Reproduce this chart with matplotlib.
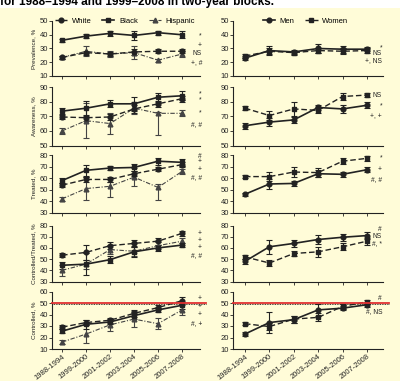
import matplotlib
matplotlib.use("Agg")
import matplotlib.pyplot as plt
from matplotlib.patches import Rectangle
from matplotlib.lines import Line2D

# ---------------- data ----------------
periods = ["1988-1994", "1999-2000", "2001-2002", "2003-2004", "2005-2006", "2007-2008"]
race_labels = ["White", "Black", "Hispanic"]
sex_labels = ["Men", "Women"]
row_labels = ["Prevalence, %", "Awareness, %", "Treated, %", "Controlled/Treated, %", "Controlled, %"]
row_ylims = [(10, 50), (50, 90), (30, 80), (30, 80), (10, 60)]

# Prevalence
prev_white = [23.5, 27, 26, 27.5, 28, 28]
prev_white_err = [1, 1.5, 1.5, 2, 1.5, 1.5]
prev_black = [36, 39, 41, 39.5, 41.5, 40]
prev_black_err = [1, 1.5, 2, 3, 1.5, 2.5]
prev_hisp = [23.5, 28, 26, 27, 21.5, 26]
prev_hisp_err = [1, 3.5, 2.5, 4.5, 1, 2.5]
prev_men = [23, 28.5, 27.5, 30, 29.5, 29.5]
prev_men_err = [1.5, 3.5, 1.5, 3.5, 2.5, 1.5]
prev_women = [24.5, 28, 27, 28.5, 28, 28.5]
prev_women_err = [1.5, 2, 1.5, 2, 2, 1.5]

# Awareness
awa_white = [69.5, 69, 69.5, 75, 78.5, 82]
awa_white_err = [1.5, 2, 2, 3, 2, 2]
awa_black = [73.5, 75.5, 78.5, 78.5, 83, 84]
awa_black_err = [2, 5, 2.5, 5, 3, 3]
awa_hisp = [60, 67, 65, 75.5, 72, 72]
awa_hisp_err = [[2, 12, 7, 4, 15, 2], [2, 12, 7, 4, 1, 2]]
awa_men = [63.5, 66, 67.5, 76, 75, 77.5]
awa_men_err = [2, 3, 2, 2, 3, 2]
awa_women = [75.5, 70.5, 75, 74, 83.5, 84.5]
awa_women_err = [1.5, 3, 5, 2, 2.5, 1.5]

# Treated
trt_white = [54, 59, 59, 64, 68, 72]
trt_white_err = [2, 2, 2, 2, 2, 2]
trt_black = [58, 67, 69, 69.5, 75, 74]
trt_black_err = [2, 5, 2, 3, 3, 3]
trt_hisp = [42, 51, 53, 61, 52, 66]
trt_hisp_err = [[2, 10, 9, 8, 11, 2], [2, 10, 4, 8, 3, 2]]
trt_men = [46, 55, 55.5, 64, 63.5, 67.5]
trt_men_err = [1.5, 4, 2, 3, 2, 2]
trt_women = [61.5, 61.5, 65.5, 65, 75, 77.5]
trt_women_err = [1.5, 4, 4, 4, 2.5, 2]

# Controlled among treated
ct_white = [53.5, 56, 62, 64, 66, 73]
ct_white_err = [2, 7, 3, 3, 3, 2]
ct_black = [44.5, 45.5, 49.5, 56.5, 60, 62.5]
ct_black_err = [3, 10, 3, 5, 3, 2]
ct_hisp = [40, 45.5, 58.5, 57, 62, 66]
ct_hisp_err = [5, 4, 4, 4, 3, 3]
ct_men = [48, 61, 64, 67.5, 69.5, 71]
ct_men_err = [2, 6, 3, 4, 3, 3]
ct_women = [52, 46.5, 55, 56.5, 61, 66]
ct_women_err = [2, 3, 2, 4.5, 3, 3]

# Controlled
ctl_white = [29, 33, 35, 41, 46, 52]
ctl_white_err = [1.5, 2, 2, 3, 2, 3]
ctl_black = [25.5, 31.5, 33.5, 39, 44, 48]
ctl_black_err = [2, 4, 2, 3, 2, 3]
ctl_hisp = [16, 23, 31, 36, 32, 44]
ctl_hisp_err = [2, 8, 5, 7, 5, 4]
ctl_men = [23, 33, 35.5, 44, 45.5, 48.5]
ctl_men_err = [1.5, 9, 3, 5, 2, 2]
ctl_women = [32, 29.5, 36, 37.5, 47, 51]
ctl_women_err = [1.5, 3, 3, 3.5, 2, 2]

control_target = 50

# significance notes (text, y)
race_notes = [
    [("*", 39.5), ("+", 32), ("NS", 26), ("+, #", 20)],
    [("*", 85), ("*", 81), ("*", 72.5), ("#, #", 64.5)],
    [("#", 79.5), ("+", 74.5), ("+", 67.5), ("#, #", 61)],
    [("+", 72.5), ("+", 67), ("+", 60), ("#, #", 53)],
    [("+", 54), ("+", 47), ("+", 40), ("#, +", 32.5)],
]
sex_notes = [
    [("*", 30.5), ("NS", 26), ("+, NS", 21)],
    [("NS", 84.5), ("*", 77), ("+, +", 70)],
    [("*", 77.5), ("+", 68), ("#, #", 58.5)],
    [("#", 76.5), ("NS", 70), ("#, *", 64)],
    [("#", 53.5), ("#, NS", 43)],
]

race_rows = [
    (prev_white, prev_white_err, prev_black, prev_black_err, prev_hisp, prev_hisp_err),
    (awa_white, awa_white_err, awa_black, awa_black_err, awa_hisp, awa_hisp_err),
    (trt_white, trt_white_err, trt_black, trt_black_err, trt_hisp, trt_hisp_err),
    (ct_white, ct_white_err, ct_black, ct_black_err, ct_hisp, ct_hisp_err),
    (ctl_white, ctl_white_err, ctl_black, ctl_black_err, ctl_hisp, ctl_hisp_err),
]
sex_rows = [
    (prev_men, prev_men_err, prev_women, prev_women_err),
    (awa_men, awa_men_err, awa_women, awa_women_err),
    (trt_men, trt_men_err, trt_women, trt_women_err),
    (ct_men, ct_men_err, ct_women, ct_women_err),
    (ctl_men, ctl_men_err, ctl_women, ctl_women_err),
]

# ---------------- style ----------------
plt.rcParams["font.family"] = ["Liberation Sans", "DejaVu Sans"]
BG = "#FFFCD8"
INK = "#222222"
W, H = 400, 381
FS = 5.5

styles = {
    "White": dict(color=INK, ls=(0, (4, 2)), marker="o", ms=3.4, lw=1.0),
    "Black": dict(color=INK, ls="-", marker="s", ms=3.4, lw=1.2),
    "Hispanic": dict(color="#444444", ls=(0, (4, 1.5, 1, 1.5)), marker="^", ms=3.4, lw=0.8),
    "Men": dict(color=INK, ls="-", marker="o", ms=3.4, lw=1.2),
    "Women": dict(color=INK, ls=(0, (4, 2)), marker="s", ms=3.4, lw=1.0),
}

fig = plt.figure(figsize=(W / 100, H / 100), dpi=100)
fig.patch.set_facecolor("white")
fig.add_artist(Rectangle((0, 0), 1, 1 - 8 / H, transform=fig.transFigure,
                         facecolor=BG, edgecolor="none", zorder=-10))
# title line, cut off at the top edge as in the source image
fig.text(0.0, 1 - 4.5 / H, "for 1988\u20131994 and 1999\u20132008 in two-year blocks.",
         fontsize=8.5, fontweight="bold", ha="left", va="baseline", color="black")

row_px = [(21, 76), (87, 145.5), (155.5, 212.5), (225.5, 281.5), (291.5, 349)]
left_px = (52, 200)
right_px = (233, 383)
x = list(range(len(periods)))


def make_ax(xpx, ypx):
    ax = fig.add_axes([xpx[0] / W, 1 - ypx[1] / H, (xpx[1] - xpx[0]) / W,
                       (ypx[1] - ypx[0]) / H])
    ax.set_facecolor("none")
    for s in ("top", "right"):
        ax.spines[s].set_visible(False)
    for s in ("left", "bottom"):
        ax.spines[s].set_linewidth(0.8)
        ax.spines[s].set_color(INK)
    ax.tick_params(axis="both", length=2, width=0.6, pad=1, labelsize=FS, colors=INK)
    ax.set_xticks(x)
    return ax


def series(ax, vals, err, st):
    ax.errorbar(x, vals, yerr=err, capsize=2.2, elinewidth=0.8, capthick=0.8,
                clip_on=False, **st)


for r in range(5):
    lo, hi = row_ylims[r]
    axl = make_ax(left_px, row_px[r])
    axr = make_ax(right_px, row_px[r])
    wv, we, bv, be, hv, he = race_rows[r]
    series(axl, hv, he, styles["Hispanic"])
    series(axl, wv, we, styles["White"])
    series(axl, bv, be, styles["Black"])
    mv, me, fv, fe = sex_rows[r]
    series(axr, fv, fe, styles["Women"])
    series(axr, mv, me, styles["Men"])
    for ax, xlim in ((axl, (-0.42, 5.75)), (axr, (-0.49, 5.66))):
        ax.set_ylim(lo, hi)
        ax.set_xlim(*xlim)
        ax.set_yticks(range(lo, hi + 1, 10))
        if r < 4:
            ax.set_xticklabels([])
        else:
            ax.set_xticklabels(periods, rotation=38, ha="right", rotation_mode="anchor",
                               fontsize=FS)
        if r == 4:
            ax.axhline(control_target - 0.8, color="black", ls=(0, (1, 1)), lw=0.6,
                       xmin=0, xmax=1.04, clip_on=False, zorder=1)
            ax.axhline(control_target, color="#E03030", lw=1.3, xmin=0, xmax=1.04,
                       clip_on=False, zorder=5)
    axl.set_ylabel(row_labels[r], fontsize=4.5, labelpad=2, color=INK)
    for txt, yv in race_notes[r]:
        axl.text(5.83, yv, txt, fontsize=4.8, ha="right", va="center", color=INK,
                 clip_on=False)
    for txt, yv in sex_notes[r]:
        axr.text(5.62, yv, txt, fontsize=4.8, ha="right", va="center", color=INK,
                 clip_on=False)
    if r == 0:
        hl = [Line2D([], [], **styles[k]) for k in race_labels]
        axl.legend(hl, race_labels, loc="center left", bbox_to_anchor=(0.02, 1.0),
                   ncol=3, frameon=False, fontsize=FS, handlelength=1.6,
                   handletextpad=0.6, columnspacing=1.4, borderaxespad=0, borderpad=0)
        hr = [Line2D([], [], **styles[k]) for k in sex_labels]
        axr.legend(hr, sex_labels, loc="center left", bbox_to_anchor=(0.2, 1.0),
                   ncol=2, frameon=False, fontsize=FS, handlelength=1.6,
                   handletextpad=0.6, columnspacing=1.4, borderaxespad=0, borderpad=0)

fig.savefig("out.png", dpi=100, facecolor=fig.get_facecolor())
